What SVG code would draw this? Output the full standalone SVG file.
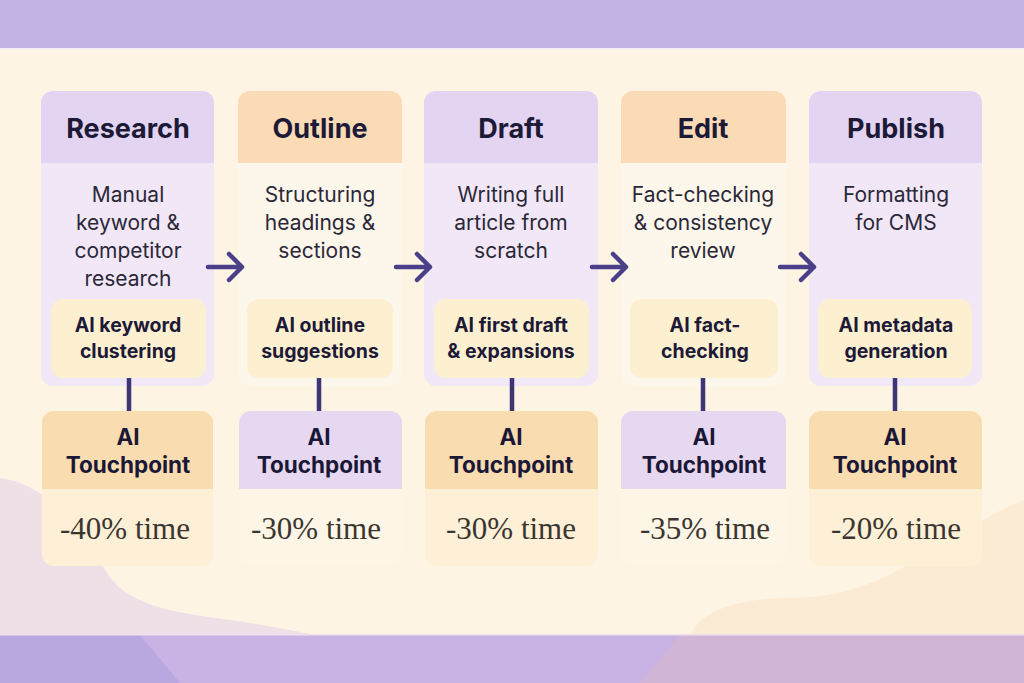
<svg xmlns="http://www.w3.org/2000/svg" width="1024" height="683" viewBox="0 0 1024 683">
<defs>
<style>
.title{font-family:Inter,"Liberation Sans",sans-serif;font-weight:700;font-size:27px;fill:#1d1a38;text-anchor:middle}
.desc{font-family:Inter,"Liberation Sans",sans-serif;font-weight:400;font-size:21px;fill:#2a2838;text-anchor:middle}
.ai{font-family:Inter,"Liberation Sans",sans-serif;font-weight:700;font-size:19.5px;fill:#1d1a38;text-anchor:middle}
.tp{font-family:Inter,"Liberation Sans",sans-serif;font-weight:700;font-size:22.5px;fill:#1a1836;text-anchor:middle}
.pct{font-family:"Liberation Serif","DejaVu Serif",serif;font-size:31px;fill:#3a3530;text-anchor:middle}
.lavH{fill:#e3d4f1}.lavB{fill:#f1e7f6}
.pchH{fill:#fbdbb6}.pchB{fill:#fdf6ea}
.inner{fill:#fdf0d0}
.tpPH{fill:#fadcb1}.tpPB{fill:#fdf0d6}
.tpLH{fill:#e7d8f1}.tpLB{fill:#fdf6e6}
.arrow{fill:none;stroke:#4b3f8a;stroke-width:4.5;stroke-linecap:round;stroke-linejoin:round}
.vline{stroke:#3d3577;stroke-width:4.5}
</style>
<clipPath id="c1"><rect x="41" y="91" width="173" height="295" rx="12"/></clipPath>
<clipPath id="c2"><rect x="238" y="91" width="164" height="295" rx="12"/></clipPath>
<clipPath id="c3"><rect x="424" y="91" width="174" height="295" rx="12"/></clipPath>
<clipPath id="c4"><rect x="621" y="91" width="165" height="295" rx="12"/></clipPath>
<clipPath id="c5"><rect x="809" y="91" width="173" height="295" rx="12"/></clipPath>
<clipPath id="t1"><rect x="42" y="411" width="171" height="155" rx="12"/></clipPath>
<clipPath id="t2"><rect x="239" y="411" width="163" height="155" rx="12"/></clipPath>
<clipPath id="t3"><rect x="425" y="411" width="173" height="155" rx="12"/></clipPath>
<clipPath id="t4"><rect x="621" y="411" width="165" height="155" rx="12"/></clipPath>
<clipPath id="t5"><rect x="809" y="411" width="173" height="155" rx="12"/></clipPath>
</defs>

<!-- background -->
<rect x="0" y="0" width="1024" height="683" fill="#fdf4e4"/>
<path d="M0,478 C40,483 80,520 105,570 C125,605 170,612 230,620 C270,626 300,632 320,636 L0,636 Z" fill="#efdfe6"/>
<path d="M690,636 C700,610 740,598 790,598 C860,598 900,570 950,540 C990,515 1010,505 1024,500 L1024,636 Z" fill="#fcebd4"/>
<rect x="0" y="0" width="1024" height="48" fill="#c2b2e4"/>
<rect x="0" y="48" width="1024" height="1.5" fill="#f4ecf6"/>
<rect x="0" y="635" width="1024" height="48" fill="#c9b2e4"/>
<path d="M0,635 L140,635 L180,683 L0,683 Z" fill="#b9a7df"/>
<path d="M680,635 L1024,635 L1024,683 L640,683 Z" fill="#d0b5d6"/>
<rect x="0" y="634" width="1024" height="1.5" fill="#efe2ee"/>

<!-- stage cards -->
<g id="research">
<g clip-path="url(#c1)"><rect class="lavB" x="41" y="91" width="173" height="295"/><rect class="lavH" x="41" y="91" width="173" height="72"/></g>
<text class="title" x="128" y="138">Research</text>
<text class="desc" x="128" y="202">Manual</text>
<text class="desc" x="128" y="230">keyword &amp;</text>
<text class="desc" x="128" y="258">competitor</text>
<text class="desc" x="128" y="286">research</text>
<rect class="inner" x="51" y="299" width="155" height="79" rx="12"/>
<text class="ai" x="128" y="332">AI keyword</text>
<text class="ai" x="128" y="358">clustering</text>
</g>
<g id="outline">
<g clip-path="url(#c2)"><rect class="pchB" x="238" y="91" width="164" height="295"/><rect class="pchH" x="238" y="91" width="164" height="72"/></g>
<text class="title" x="320" y="138">Outline</text>
<text class="desc" x="320" y="202">Structuring</text>
<text class="desc" x="320" y="230">headings &amp;</text>
<text class="desc" x="320" y="258">sections</text>
<rect class="inner" x="247" y="299" width="146" height="79" rx="12"/>
<text class="ai" x="320" y="332">AI outline</text>
<text class="ai" x="320" y="358">suggestions</text>
</g>
<g id="draft">
<g clip-path="url(#c3)"><rect class="lavB" x="424" y="91" width="174" height="295"/><rect class="lavH" x="424" y="91" width="174" height="72"/></g>
<text class="title" x="511" y="138">Draft</text>
<text class="desc" x="511" y="202">Writing full</text>
<text class="desc" x="511" y="230">article from</text>
<text class="desc" x="511" y="258">scratch</text>
<rect class="inner" x="434" y="299" width="155" height="79" rx="12"/>
<text class="ai" x="511" y="332">AI first draft</text>
<text class="ai" x="511" y="358">&amp; expansions</text>
</g>
<g id="edit">
<g clip-path="url(#c4)"><rect class="pchB" x="621" y="91" width="165" height="295"/><rect class="pchH" x="621" y="91" width="165" height="72"/></g>
<text class="title" x="703" y="138">Edit</text>
<text class="desc" x="703" y="202">Fact-checking</text>
<text class="desc" x="703" y="230">&amp; consistency</text>
<text class="desc" x="703" y="258">review</text>
<rect class="inner" x="630" y="299" width="148" height="79" rx="12"/>
<text class="ai" x="705" y="332">AI fact-</text>
<text class="ai" x="705" y="358">checking</text>
</g>
<g id="publish">
<g clip-path="url(#c5)"><rect class="lavB" x="809" y="91" width="173" height="295"/><rect class="lavH" x="809" y="91" width="173" height="72"/></g>
<text class="title" x="896" y="138">Publish</text>
<text class="desc" x="896" y="202">Formatting</text>
<text class="desc" x="896" y="230">for CMS</text>
<rect class="inner" x="818" y="299" width="154" height="79" rx="12"/>
<text class="ai" x="896" y="332">AI metadata</text>
<text class="ai" x="896" y="358">generation</text>
</g>

<!-- touchpoints -->
<g id="tp-research">
<g clip-path="url(#t1)"><rect class="tpPB" x="42" y="411" width="171" height="155"/><rect class="tpPH" x="42" y="411" width="171" height="78"/></g>
<text class="tp" x="128" y="445">AI</text>
<text class="tp" x="128" y="473">Touchpoint</text>
<text class="pct" x="125" y="539">-40% time</text>
</g>
<g id="tp-outline">
<g clip-path="url(#t2)"><rect class="tpLB" x="239" y="411" width="163" height="155"/><rect class="tpLH" x="239" y="411" width="163" height="78"/></g>
<text class="tp" x="319" y="445">AI</text>
<text class="tp" x="319" y="473">Touchpoint</text>
<text class="pct" x="316" y="539">-30% time</text>
</g>
<g id="tp-draft">
<g clip-path="url(#t3)"><rect class="tpPB" x="425" y="411" width="173" height="155"/><rect class="tpPH" x="425" y="411" width="173" height="78"/></g>
<text class="tp" x="511" y="445">AI</text>
<text class="tp" x="511" y="473">Touchpoint</text>
<text class="pct" x="511" y="539">-30% time</text>
</g>
<g id="tp-edit">
<g clip-path="url(#t4)"><rect class="tpLB" x="621" y="411" width="165" height="155"/><rect class="tpLH" x="621" y="411" width="165" height="78"/></g>
<text class="tp" x="704" y="445">AI</text>
<text class="tp" x="704" y="473">Touchpoint</text>
<text class="pct" x="705" y="539">-35% time</text>
</g>
<g id="tp-publish">
<g clip-path="url(#t5)"><rect class="tpPB" x="809" y="411" width="173" height="155"/><rect class="tpPH" x="809" y="411" width="173" height="78"/></g>
<text class="tp" x="895" y="445">AI</text>
<text class="tp" x="895" y="473">Touchpoint</text>
<text class="pct" x="896" y="539">-20% time</text>
</g>

<!-- connectors -->
<g id="connectors">
<path class="arrow" d="M208,267 H242 M229,254 L242,267 L229,280"/>
<path class="arrow" d="M396,267 H430 M417,254 L430,267 L417,280"/>
<path class="arrow" d="M592,267 H626 M613,254 L626,267 L613,280"/>
<path class="arrow" d="M780,267 H814 M801,254 L814,267 L801,280"/>
<line class="vline" x1="129" y1="378" x2="129" y2="411"/>
<line class="vline" x1="319" y1="378" x2="319" y2="411"/>
<line class="vline" x1="512" y1="378" x2="512" y2="411"/>
<line class="vline" x1="703" y1="378" x2="703" y2="411"/>
<line class="vline" x1="895" y1="378" x2="895" y2="411"/>
</g>
</svg>
